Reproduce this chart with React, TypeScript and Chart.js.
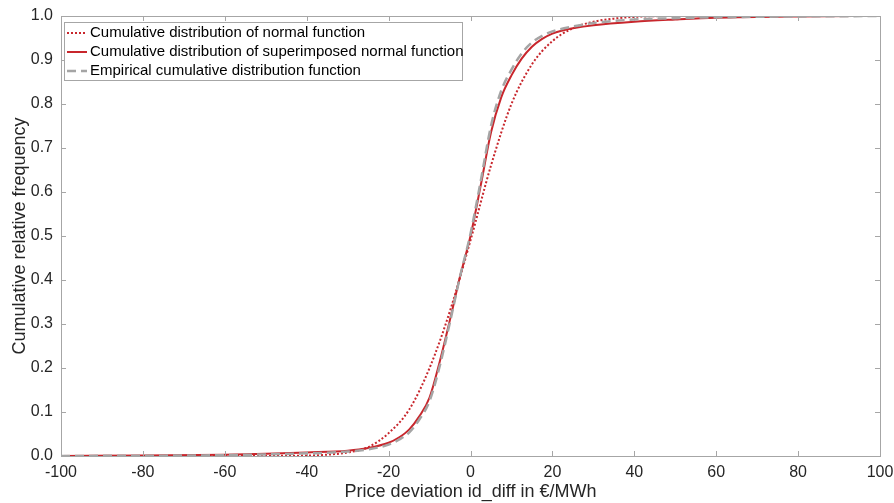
import React, { useEffect, useRef } from "react";
import { Chart, registerables } from "chart.js";
Chart.register(...registerables);

// x positions (price deviation, €/MWh)
const xNormal = [-100, -60, -40, -35, -30, -25, -20, -15, -10, -5, 0, 5, 10, 15, 20, 25, 30, 35, 40, 50, 60, 100];
const yNormal = [0, 0, 0.001, 0.003, 0.008, 0.02, 0.052, 0.105, 0.2, 0.33, 0.49, 0.66, 0.8, 0.89, 0.943, 0.972, 0.987, 0.994, 0.998, 1, 1, 1];

const xSuper = [-100, -80, -60, -50, -40, -30, -25, -20, -17.5, -15, -12.5, -10, -7.5, -5, -2.5, 0, 2.5, 5, 7.5, 10, 12.5, 15, 17.5, 20, 22.5, 25, 30, 40, 50, 60, 80, 100];
const ySuper = [0, 0.001, 0.003, 0.005, 0.008, 0.012, 0.018, 0.03, 0.042, 0.06, 0.09, 0.133, 0.215, 0.31, 0.41, 0.5, 0.615, 0.735, 0.815, 0.865, 0.903, 0.93, 0.948, 0.96, 0.967, 0.972, 0.979, 0.987, 0.992, 0.996, 0.999, 1];

const xEmp = [-100, -60, -40, -30, -25, -20, -17.5, -15, -12.5, -10, -7.5, -5, -2.5, 0, 2.5, 5, 7.5, 10, 12.5, 15, 17.5, 20, 25, 30, 40, 50, 60, 80, 100];
const yEmp = [0, 0.002, 0.006, 0.01, 0.015, 0.026, 0.037, 0.053, 0.083, 0.125, 0.205, 0.305, 0.41, 0.505, 0.625, 0.75, 0.83, 0.878, 0.915, 0.94, 0.955, 0.965, 0.976, 0.984, 0.992, 0.995, 0.997, 0.999, 1];

const seriesLabels = [
  "Cumulative distribution of normal function",
  "Cumulative distribution of superimposed normal function",
  "Empirical cumulative distribution function",
];

const xTicks = [-100, -80, -60, -40, -20, 0, 20, 40, 60, 80, 100];
const yTicks = [0, 0.1, 0.2, 0.3, 0.4, 0.5, 0.6, 0.7, 0.8, 0.9, 1.0];

const RED = "rgb(200,38,44)";
const GRAY = "rgb(165,165,165)";
const TEXT = "#262626";
const AXIS = "#a6a6a6";
const FONT = "'Liberation Sans', Arial, sans-serif";

const toPts = (xs: number[], ys: number[]) => xs.map((x, i) => ({ x, y: ys[i] }));

const boxPlugin = {
  id: "boxTicks",
  afterDraw(chart: any) {
    const { ctx, chartArea: a, scales } = chart;
    ctx.save();
    ctx.strokeStyle = AXIS;
    ctx.lineWidth = 1;
    ctx.strokeRect(Math.round(a.left) + 0.5, Math.round(a.top) + 0.5, Math.round(a.right - a.left), Math.round(a.bottom - a.top));
    const L = 5;
    ctx.beginPath();
    for (const v of xTicks) {
      const px = Math.round(scales.x.getPixelForValue(v)) + 0.5;
      ctx.moveTo(px, a.bottom);
      ctx.lineTo(px, a.bottom - L);
      ctx.moveTo(px, a.top);
      ctx.lineTo(px, a.top + L);
    }
    for (const v of yTicks) {
      const py = Math.round(scales.y.getPixelForValue(v)) + 0.5;
      ctx.moveTo(a.left, py);
      ctx.lineTo(a.left + L, py);
      ctx.moveTo(a.right, py);
      ctx.lineTo(a.right - L, py);
    }
    ctx.stroke();

    // legend
    const lx = a.left + 3;
    const ly = a.top + 6;
    const w = 398;
    const h = 58;
    ctx.fillStyle = "#fff";
    ctx.fillRect(lx, ly, w, h);
    ctx.strokeStyle = AXIS;
    ctx.strokeRect(Math.round(lx) + 0.5, Math.round(ly) + 0.5, w, h);
    ctx.font = `15px ${FONT}`;
    ctx.textBaseline = "middle";
    ctx.textAlign = "left";
    chart.data.datasets.forEach((ds: any, i: number) => {
      const cy = ly + 11 + i * 19;
      ctx.beginPath();
      ctx.strokeStyle = ds.borderColor;
      ctx.lineWidth = ds.borderWidth;
      ctx.setLineDash(ds.borderDash || []);
      ctx.moveTo(lx + 3, cy);
      ctx.lineTo(lx + 23, cy);
      ctx.stroke();
      ctx.setLineDash([]);
      ctx.fillStyle = "#000";
      ctx.fillText(ds.label, lx + 26, cy);
    });
    ctx.restore();
  },
};

export default function App() {
  const ref = useRef<HTMLCanvasElement | null>(null);
  useEffect(() => {
    document.body.style.margin = "0";
    const canvas = ref.current!;
    const chart = new Chart(canvas, {
      type: "line",
      data: {
        datasets: [
          {
            label: seriesLabels[0],
            data: toPts(xNormal, yNormal),
            borderColor: RED,
            borderWidth: 2,
            borderDash: [2, 2],
            pointRadius: 0,
            cubicInterpolationMode: "monotone",
            order: 3,
          },
          {
            label: seriesLabels[1],
            data: toPts(xSuper, ySuper),
            borderColor: RED,
            borderWidth: 2,
            pointRadius: 0,
            cubicInterpolationMode: "monotone",
            order: 2,
          },
          {
            label: seriesLabels[2],
            data: toPts(xEmp, yEmp),
            borderColor: GRAY,
            borderWidth: 2.5,
            borderDash: [9, 5],
            pointRadius: 0,
            cubicInterpolationMode: "monotone",
            order: 1,
          },
        ],
      },
      options: {
        responsive: false,
        animation: false,
        layout: { padding: { top: 16, right: 14, left: 0, bottom: 0 } },
        plugins: { legend: { display: false }, tooltip: { enabled: false } },
        scales: {
          x: {
            type: "linear",
            min: -100,
            max: 100,
            afterBuildTicks: (s: any) => {
              s.ticks = xTicks.map((v) => ({ value: v }));
            },
            afterFit: (s: any) => {
              s.height = 47;
              s.paddingLeft = 0;
              s.paddingRight = 0;
            },
            grid: { display: false, drawTicks: false },
            border: { display: false },
            ticks: { color: TEXT, font: { family: FONT, size: 16 }, padding: 7, maxRotation: 0, autoSkip: false },
            title: { display: true, text: "Price deviation id_diff in €/MWh", color: TEXT, font: { family: FONT, size: 18 }, padding: { top: 0, bottom: 0 } },
          },
          y: {
            type: "linear",
            min: 0,
            max: 1,
            afterBuildTicks: (s: any) => {
              s.ticks = yTicks.map((v) => ({ value: v }));
            },
            afterFit: (s: any) => {
              s.width = 61;
              s.paddingTop = 0;
              s.paddingBottom = 0;
            },
            grid: { display: false, drawTicks: false },
            border: { display: false },
            ticks: { color: TEXT, font: { family: FONT, size: 16 }, padding: 8, callback: (v: any) => Number(v).toFixed(1) },
            title: { display: true, text: "Cumulative relative frequency", color: TEXT, font: { family: FONT, size: 18 }, padding: { top: 9, bottom: 0 } },
          },
        },
      },
      plugins: [boxPlugin],
    } as any);
    return () => chart.destroy();
  }, []);
  return <canvas ref={ref} width={894} height={503} style={{ display: "block", width: 894, height: 503 }} />;
}
